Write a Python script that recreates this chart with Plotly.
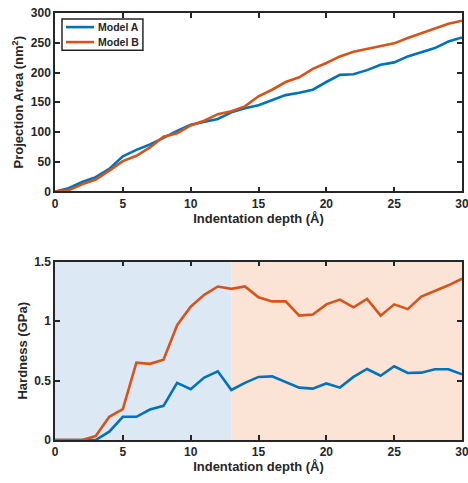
import plotly.graph_objects as go
from plotly.subplots import make_subplots

depth = list(range(0, 31))
area_a = [0, 5.6, 16, 24, 38, 59, 70, 79, 90, 102, 112, 117, 122, 133, 140, 145, 154, 162, 166, 171,
          184, 196, 197, 204, 213, 217, 227, 234, 241, 252, 259]
area_b = [0, 2, 12, 20, 35, 51, 60, 74, 92, 98, 111, 119, 130, 135, 143, 160, 171, 184, 192, 206,
          216, 227, 235, 240, 244, 249, 258, 266, 275, 282, 287]
hard_a = [0, 0, 0, 0, 0.07, 0.195, 0.195, 0.256, 0.287, 0.48, 0.427, 0.525, 0.577, 0.42, 0.48, 0.53,
          0.535, 0.49, 0.44, 0.432, 0.475, 0.44, 0.53, 0.597, 0.54, 0.62, 0.563, 0.566, 0.594, 0.594, 0.552]
hard_b = [0, 0, 0, 0.033, 0.195, 0.26, 0.65, 0.64, 0.675, 0.965, 1.12, 1.22, 1.29, 1.27, 1.29, 1.20,
          1.165, 1.165, 1.045, 1.055, 1.14, 1.18, 1.115, 1.185, 1.045, 1.14, 1.10, 1.205, 1.25, 1.30, 1.355]
series_names = ["Model A", "Model B"]
region_split = 13

BLUE = "#0072BD"
ORANGE = "#D95319"
COLORS = [BLUE, ORANGE]
TXT = "#262626"
FONT = "Liberation Sans"

fig = make_subplots(rows=2, cols=1, vertical_spacing=0.164)

for name, ys, c in zip(series_names, [area_a, area_b], COLORS):
    fig.add_trace(go.Scatter(x=depth, y=ys, mode="lines", name=name, showlegend=False,
                             line=dict(color=c, width=2.6)), row=1, col=1)
for name, ys, c in zip(series_names, [hard_a, hard_b], COLORS):
    fig.add_trace(go.Scatter(x=depth, y=ys, mode="lines", name=name, showlegend=False,
                             line=dict(color=c, width=2.6)), row=2, col=1)

fig.add_shape(type="rect", xref="x2", yref="y2 domain", x0=0, x1=region_split, y0=0, y1=1,
              fillcolor="#dce9f4", line_width=0, layer="below")
fig.add_shape(type="rect", xref="x2", yref="y2 domain", x0=region_split, x1=30, y0=0, y1=1,
              fillcolor="#fbe3d6", line_width=0, layer="below")

# legend box (MATLAB style) inside the top axes
fig.add_shape(type="rect", xref="x domain", yref="y domain", x0=0.0172, x1=0.216, y0=0.792, y1=0.966,
              fillcolor="white", line=dict(color=TXT, width=1.5))
for i, (name, c) in enumerate(zip(series_names, COLORS)):
    yy = 0.921 - i * 0.084
    fig.add_shape(type="line", xref="x domain", yref="y domain", x0=0.027, x1=0.096, y0=yy, y1=yy,
                  line=dict(color=c, width=2.6))
    fig.add_annotation(xref="x domain", yref="y domain", x=0.101, y=yy, xanchor="left", yanchor="middle",
                       text=f"<b>{name}</b>", showarrow=False,
                       font=dict(family=FONT, size=10.5, color=TXT))

axis_common = dict(showline=True, linecolor=TXT, linewidth=1.5, mirror="ticks",
                   ticks="inside", ticklen=5, tickwidth=1.5, tickcolor=TXT,
                   showgrid=False, zeroline=False, automargin=False, ticklabeloverflow="allow",
                   tickfont=dict(family=FONT, size=12, color=TXT, weight="bold"))

title_font = dict(family=FONT, size=13, color=TXT)

fig.update_xaxes(range=[0, 30], tickvals=[0, 5, 10, 15, 20, 25, 30], **axis_common)
fig.update_xaxes(title=dict(text="<b>Indentation depth (Å)</b>", standoff=2, font=title_font), row=1, col=1)
fig.update_xaxes(title=dict(text="<b>Indentation depth (Å)</b>", standoff=2, font=title_font), row=2, col=1)
fig.update_yaxes(range=[0, 300], tickvals=[0, 50, 100, 150, 200, 250, 300],
                 title=dict(text="<b>Projection Area (nm<sup>2</sup>)</b>", standoff=4, font=title_font),
                 row=1, col=1, **axis_common)
fig.update_yaxes(range=[0, 1.5], tickvals=[0, 0.5, 1, 1.5], ticktext=["0", "0.5", "1", "1.5"],
                 title=dict(text="<b>Hardness (GPa)</b>", standoff=4, font=title_font),
                 row=2, col=1, **axis_common)

fig.update_layout(
    width=472, height=483,
    margin=dict(l=55, r=10, t=13, b=43),
    paper_bgcolor="white", plot_bgcolor="white",
    font=dict(family=FONT, color=TXT),
    showlegend=False,
)

# remove the default 8px page margin so the figure sits at the window's top-left corner
fig.write_html("out.html",
               config={"displayModeBar": False},
               post_script="document.body.style.margin='0';document.body.style.overflow='hidden';")
